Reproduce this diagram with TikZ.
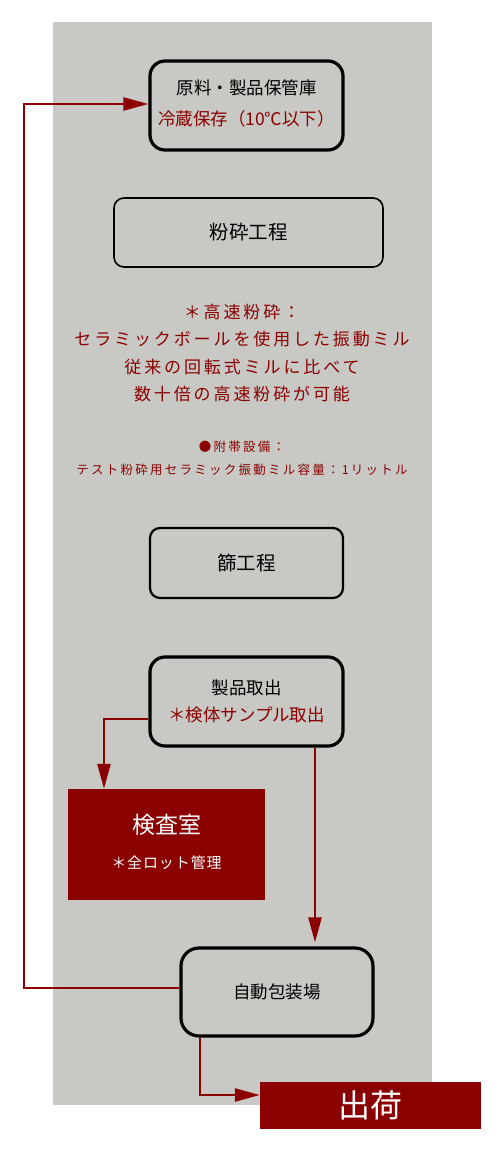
\documentclass[tikz,border=0pt]{standalone}
\usepackage{fontspec}
\setmainfont{Noto Sans CJK JP}
\usetikzlibrary{arrows.meta}
\definecolor{dred}{RGB}{139,0,0}
\definecolor{bg}{RGB}{200,201,196}
\tikzset{
  thickbox/.style={draw=black, line width=3.2pt, rounded corners=15pt, align=center, inner sep=0pt},
  thinbox/.style={draw=black, line width=1.6pt, rounded corners=10pt, align=center, inner sep=0pt},
  redbox/.style={fill=dred, draw=none, text=white, align=center, inner sep=0pt},
  flow/.style={draw=dred, line width=2.5pt, -{Triangle[length=25pt,width=13pt]}},
  fs/.style={font=\fontsize{#1}{#1}\selectfont}
}
\begin{document}
\begin{tikzpicture}[x=1pt,y=-1pt]
\useasboundingbox (0,0) rectangle (500,1150);
\fill[bg] (53,22) rectangle (432,1105);

\node[thickbox, minimum width=193pt, minimum height=89pt] (b1) at (246.5,105.5) {};
\node[font=\fontsize{17.5}{31}\selectfont, align=center] (b1t) at (246.5,103) {原料・製品保管庫\\\textcolor{dred}{冷蔵保存（10℃以下）}};

\node[thinbox, minimum width=269pt, minimum height=69pt, font=\fontsize{19.5}{19.5}\selectfont] (b2) at (248.5,232.5) {粉砕工程};

\node[align=center, text=dred, font=\fontsize{17}{27.3}\selectfont\addfontfeature{LetterSpace=17}] (desc) at (242,353)
 {＊高速粉砕：\\セラミックボールを使用した振動ミル\\従来の回転式ミルに比べて\\数十倍の高速粉砕が可能};

\node[align=center, text=dred, font=\fontsize{12.5}{23}\selectfont\addfontfeature{LetterSpace=18}] (equip) at (242,458.5)
 {●附帯設備：\\テスト粉砕用セラミック振動ミル容量：1リットル};

\node[thinbox, line width=2.2pt, minimum width=193pt, minimum height=70pt, font=\fontsize{19.5}{19.5}\selectfont] (b3) at (246.5,563) {篩工程};

\node[thickbox, minimum width=193pt, minimum height=89pt] (b4) at (246.5,701.5) {};
\node[font=\fontsize{17.5}{27}\selectfont, align=center] (b4t) at (246.5,701) {製品取出\\\textcolor{dred}{＊検体サンプル取出}};

\node[redbox, minimum width=197pt, minimum height=111pt] (insp) at (166.5,844.5) {};
\node[text=white, align=center, font=\fontsize{23}{35}\selectfont] (inspt) at (166.5,842) {検査室\\{\fontsize{15}{15}\selectfont\addfontfeature{LetterSpace=6}＊全ロット管理}};

\node[thickbox, rounded corners=18pt, minimum width=192pt, minimum height=88pt, font=\fontsize{17.5}{17.5}\selectfont] (b5) at (277,992) {自動包装場};

\node[redbox, minimum width=221pt, minimum height=47pt, font=\fontsize{32}{32}\selectfont] (ship) at (370.5,1105.5) {出荷};

\coordinate (loopx) at (24,0);
\draw[flow] ([yshift=4pt]b5.west) -- ([yshift=4pt]b5.west -| loopx) |- ([yshift=1.5pt]b1.west);
\draw[flow] ([yshift=-17.5pt]b4.west) -| ([xshift=-62.5pt]insp.north);
\draw[flow, shorten >=4pt] ([xshift=68.5pt]b4.south) -- ([xshift=68.5pt]b4.south |- b5.north);
\draw[flow] ([xshift=-77pt]b5.south) |- ([yshift=10.5pt]ship.west);
\end{tikzpicture}
\end{document}
